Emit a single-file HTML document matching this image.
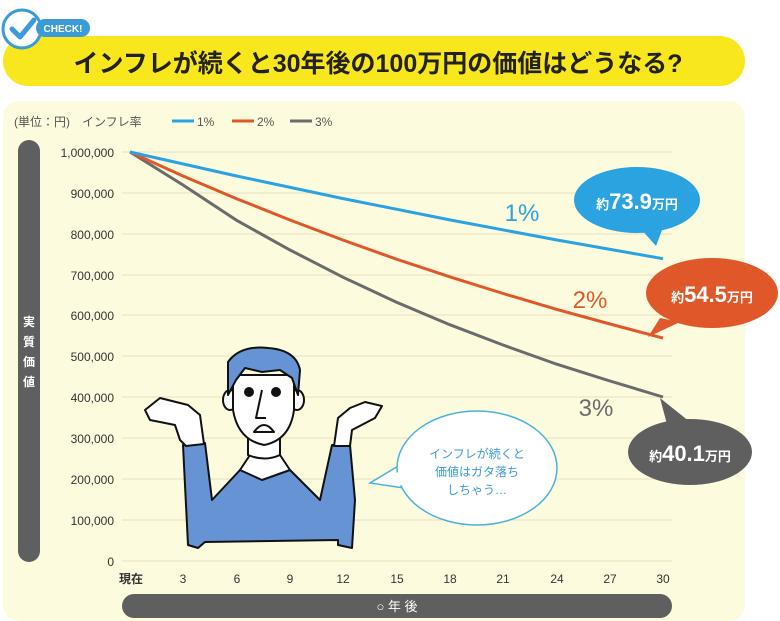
<!DOCTYPE html>
<html><head><meta charset="utf-8"><style>
body{margin:0;background:#fff;}
svg{display:block;font-family:"Liberation Sans","Noto Sans CJK JP",sans-serif;}
</style></head><body>
<svg width="780" height="621" viewBox="0 0 780 621" xmlns="http://www.w3.org/2000/svg">
<rect x="3" y="36" width="742" height="50" rx="25" fill="#f8e71c"/>
<circle cx="22" cy="29" r="19" fill="#fff" stroke="#3a9bd8" stroke-width="3"/>
<path d="M12 29 L20 37 L34 20" fill="none" stroke="#3a9bd8" stroke-width="5" stroke-linecap="round" stroke-linejoin="round"/>
<rect x="36" y="19" width="54" height="18" rx="9" fill="#3a9bd8"/>
<text x="63" y="32" font-size="10" font-weight="bold" fill="#fff" text-anchor="middle">CHECK!</text>
<text x="378" y="72" font-size="25" font-weight="bold" fill="#222" text-anchor="middle">インフレが続くと30年後の100万円の価値はどうなる?</text>
<rect x="3" y="101" width="742" height="520" rx="16" fill="#fdfbde"/>
<text x="14" y="126" font-size="12" fill="#555">(単位：円)　インフレ率</text>
<line x1="172" y1="121" x2="194" y2="121" stroke="#2ba3e0" stroke-width="3"/><text x="197" y="126" font-size="12" fill="#555">1%</text>
<line x1="232" y1="121" x2="254" y2="121" stroke="#e0582a" stroke-width="3"/><text x="257" y="126" font-size="12" fill="#555">2%</text>
<line x1="290" y1="121" x2="312" y2="121" stroke="#6b6b6b" stroke-width="3"/><text x="315" y="126" font-size="12" fill="#555">3%</text>
<g stroke="#e7dfbf" stroke-width="1">
<line x1="122" x2="672" y1="152" y2="152"/><line x1="122" x2="672" y1="193" y2="193"/><line x1="122" x2="672" y1="234" y2="234"/><line x1="122" x2="672" y1="275" y2="275"/><line x1="122" x2="672" y1="315" y2="315"/><line x1="122" x2="672" y1="356" y2="356"/><line x1="122" x2="672" y1="397" y2="397"/><line x1="122" x2="672" y1="438" y2="438"/><line x1="122" x2="672" y1="479" y2="479"/><line x1="122" x2="672" y1="520" y2="520"/><line x1="122" x2="672" y1="561" y2="561"/>
</g>
<g font-size="12" fill="#333" text-anchor="end">
<text x="114" y="157">1,000,000</text><text x="114" y="198">900,000</text><text x="114" y="239">800,000</text><text x="114" y="280">700,000</text><text x="114" y="320">600,000</text><text x="114" y="361">500,000</text><text x="114" y="402">400,000</text><text x="114" y="443">300,000</text><text x="114" y="484">200,000</text><text x="114" y="525">100,000</text><text x="114" y="566">0</text>
</g>
<g font-size="12" fill="#333" text-anchor="middle">
<text x="131" y="583" font-weight="bold">現在</text><text x="183" y="583">3</text><text x="237" y="583">6</text><text x="290" y="583">9</text><text x="343" y="583">12</text><text x="397" y="583">15</text><text x="450" y="583">18</text><text x="503" y="583">21</text><text x="557" y="583">24</text><text x="610" y="583">27</text><text x="663" y="583">30</text>
</g>
<rect x="18" y="140" width="22" height="422" rx="11" fill="#5f5f5f"/>
<g font-size="12" fill="#fff" text-anchor="middle" font-weight="bold"><text x="29" y="326">実</text><text x="29" y="346">質</text><text x="29" y="366">価</text><text x="29" y="386">値</text></g>
<rect x="122" y="594" width="550" height="24" rx="12" fill="#5f5f5f"/>
<text x="397" y="611" font-size="13" fill="#fff" text-anchor="middle">○ 年 後</text>
<polyline fill="none" stroke="#6b6b6b" stroke-width="3" points="130,152 183,185 236.6,220.3 290,250 343.2,277.3 396,302 449.8,324.7 503,345 556.4,364.1 610,381 663,397"/>
<polyline fill="none" stroke="#e0582a" stroke-width="3" points="130,152 183,176 236.6,198.7 290,220 343.2,240.1 396,259 449.8,276.8 503,293.5 556.4,309.3 610,324 663,338.1"/>
<polyline fill="none" stroke="#2ba3e0" stroke-width="3" points="130,152 236.6,176 343.2,198.6 449.8,219.9 556.4,239.9 663,258.7"/>
<text x="522" y="221" font-size="24" fill="#2ba3e0" text-anchor="middle">1%</text>
<text x="590" y="308" font-size="24" fill="#e0582a" text-anchor="middle">2%</text>
<text x="596" y="416" font-size="24" fill="#6b6b6b" text-anchor="middle">3%</text>
<path d="M640 228 L656 246 L665 222 Z" fill="#2ba3e0"/>
<ellipse cx="637" cy="200" rx="63" ry="33" fill="#2ba3e0"/>
<text x="637" y="209" fill="#fff" text-anchor="middle" font-weight="bold"><tspan font-size="13">約</tspan><tspan font-size="22">73.9</tspan><tspan font-size="13">万円</tspan></text>
<path d="M660 318 L648 337 L680 322 Z" fill="#e0582a"/>
<ellipse cx="712" cy="293" rx="66" ry="35" fill="#e0582a"/>
<text x="712" y="302" fill="#fff" text-anchor="middle" font-weight="bold"><tspan font-size="13">約</tspan><tspan font-size="22">54.5</tspan><tspan font-size="13">万円</tspan></text>
<path d="M668 428 L660 398 L690 422 Z" fill="#5f5f5f"/>
<ellipse cx="690" cy="452" rx="62" ry="33" fill="#5f5f5f"/>
<text x="690" y="461" fill="#fff" text-anchor="middle" font-weight="bold"><tspan font-size="13">約</tspan><tspan font-size="22">40.1</tspan><tspan font-size="13">万円</tspan></text>
<path d="M400 465 L370 483 L404 488 Z" fill="#fff" stroke="#4bb3d8" stroke-width="1.5"/>
<ellipse cx="477" cy="468" rx="80" ry="57" fill="#fff" stroke="#4bb3d8" stroke-width="1.5"/>
<path d="M402 470 L378 483 L408 486 Z" fill="#fff"/>
<g font-size="12" fill="#3a9bd8" text-anchor="middle"><text x="477" y="458">インフレが続くと</text><text x="477" y="476">価値はガタ落ち</text><text x="477" y="494">しちゃう…</text></g>
<g stroke="#111" stroke-width="2" stroke-linejoin="round">
<!-- sleeves and torso -->
<path d="M183 445 L205 443 L212 500 L240 470 L263 465 L290 470 L320 500 L332 445 L350 445 L355 500 L352 548 L338 545 L338 540 L205 542 L198 548 L188 545 Z" fill="#6593d4"/>
<path d="M240 470 L262 480 L290 470 L280 455 L250 455 Z" fill="#fff"/>
<!-- hands -->
<path d="M186 446 L204 444 L200 415 L188 405 L160 398 L145 410 L150 420 L175 425 L180 440 Z" fill="#fff"/>
<path d="M334 446 L350 446 L352 430 L375 418 L382 406 L365 402 L350 408 L338 418 Z" fill="#fff"/>
<!-- neck -->
<path d="M248 430 L248 455 Q265 462 280 455 L280 430 Z" fill="#fff"/>
<!-- ears -->
<ellipse cx="230" cy="400" rx="7" ry="10" fill="#fff"/>
<ellipse cx="297" cy="400" rx="7" ry="10" fill="#fff"/>
<!-- face -->
<path d="M233 375 L233 410 Q238 440 264 445 Q290 440 294 410 L294 375 Z" fill="#fff"/>
<path d="M228 395 L228 362 Q240 345 268 348 Q296 350 300 370 L298 395 L292 378 L280 370 L262 372 L245 368 L236 380 Z" fill="#6593d4"/>
<circle cx="249" cy="392" r="4" fill="#111"/><circle cx="276" cy="392" r="4" fill="#111"/>
<path d="M262 390 L256 418 L266 418" fill="none"/>
<path d="M254 432 Q264 418 274 432 Z" fill="#fff"/>
</g>
</svg>
</body></html>
